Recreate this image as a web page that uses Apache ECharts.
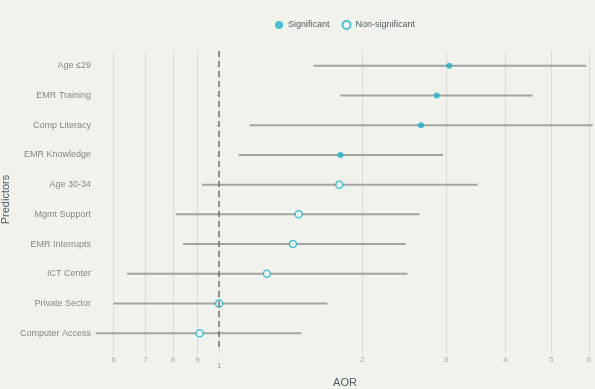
<!DOCTYPE html>
<html>
<head>
<meta charset="utf-8">
<script src="https://cdn.jsdelivr.net/npm/echarts@6/dist/echarts.min.js"></script>
<style>
  html, body { margin: 0; padding: 0; background: #f2f2ed; }
  #main { width: 595px; height: 389px; }
</style>
</head>
<body>
<div id="main"></div>
<script>
// predictors, top to bottom
const predictors = ['Age ≤29', 'EMR Training', 'Comp Literacy', 'EMR Knowledge', 'Age 30-34',
  'Mgmt Support', 'EMR Interrupts', 'ICT Center', 'Private Sector', 'Computer Access'];
const aor = [3.05, 2.87, 2.66, 1.80, 1.79, 1.47, 1.43, 1.26, 1.00, 0.91];
const ciLow = [1.58, 1.80, 1.16, 1.10, 0.92, 0.81, 0.84, 0.64, 0.60, 0.55];
const ciHigh = [5.92, 4.57, 6.11, 2.96, 3.50, 2.64, 2.47, 2.49, 1.69, 1.49];
const significant = [true, true, true, true, false, false, false, false, false, false];

const tickValues = [0.6, 0.7, 0.8, 0.9, 1, 2, 3, 4, 5, 6];
const tickLabels = ['6', '7', '8', '9', '1', '2', '3', '4', '5', '6'];

const chart = echarts.init(document.getElementById('main'));

// log scale done by hand: x = ln(AOR)
const ln = v => Math.log(v);
const tickPos = tickValues.map(ln);

const sigData = [];
const nonData = [];
predictors.forEach((p, i) => {
  (significant[i] ? sigData : nonData).push([ln(aor[i]), p]);
});

const cyan = '#19b4cc';

const option = {
  backgroundColor: '#f2f2ed',
  textStyle: { fontFamily: 'Liberation Sans, Arial, sans-serif' },
  legend: {
    top: 15,
    left: 270,
    itemWidth: 8,
    itemHeight: 8,
    itemGap: 12,
    textStyle: { color: '#4d5c61', fontSize: 9 },
    data: ['Significant', 'Non-significant']
  },
  grid: { left: 95, right: 0, top: 51, bottom: 41, outerBoundsMode: 'none' },
  xAxis: {
    type: 'value',
    min: ln(0.548),
    max: ln(6.18),
    name: 'AOR',
    nameLocation: 'middle',
    nameGap: 29,
    nameMoveOverlap: false,
    nameTextStyle: { color: '#4d5c61', fontSize: 11 },
    axisLine: { show: false },
    axisTick: { show: true, length: 6, lineStyle: { color: '#dcdcd6' }, customValues: tickPos },
    axisLabel: {
      color: '#a8a8a4',
      fontSize: 8,
      margin: 8,
      customValues: tickPos,
      formatter: v => {
        const i = tickPos.findIndex(t => Math.abs(t - v) < 1e-6);
        const lbl = i >= 0 ? tickLabels[i] : '';
        return tickValues[i] === 1 ? '{one|' + lbl + '}' : lbl;
      },
      rich: { one: { fontSize: 8, color: '#9a9a96', padding: [6, 0, 0, 0] } }
    },
    splitLine: { show: true, lineStyle: { color: '#dcdcd6', width: 1 } }
  },
  yAxis: {
    type: 'category',
    data: predictors,
    inverse: true,
    name: 'Predictors',
    nameLocation: 'middle',
    nameGap: 84,
    nameMoveOverlap: false,
    nameTextStyle: { color: '#4d5c61', fontSize: 11 },
    axisLine: { show: false },
    axisTick: { show: true, alignWithLabel: true, length: 3, lineStyle: { color: '#cfcfca' } },
    axisLabel: { color: '#858583', fontSize: 9, margin: 4 },
    splitLine: { show: false }
  },
  series: [
    {
      name: 'CI',
      type: 'custom',
      silent: true,
      z: 1,
      data: predictors.map((p, i) => [ln(ciLow[i]), ln(ciHigh[i]), i]),
      renderItem: (params, api) => {
        const a = api.coord([api.value(0), api.value(2)]);
        const b = api.coord([api.value(1), api.value(2)]);
        return {
          type: 'line',
          shape: { x1: a[0], y1: a[1], x2: b[0], y2: b[1] },
          style: { stroke: '#a3a3a0', lineWidth: 2 }
        };
      },
      markLine: {
        silent: true,
        symbol: 'none',
        label: { show: false },
        lineStyle: { color: '#727270', type: [6, 4], width: 1.5 },
        data: [{ xAxis: 0 }]
      }
    },
    {
      name: 'Significant',
      type: 'scatter',
      z: 3,
      symbol: 'circle',
      symbolSize: 6,
      itemStyle: { color: cyan },
      data: sigData
    },
    {
      name: 'Non-significant',
      type: 'scatter',
      z: 3,
      symbol: 'circle',
      symbolSize: 7,
      itemStyle: { color: '#ffffff', borderColor: cyan, borderWidth: 1.5 },
      data: nonData
    }
  ]
};

chart.setOption(option);
</script>
</body>
</html>
